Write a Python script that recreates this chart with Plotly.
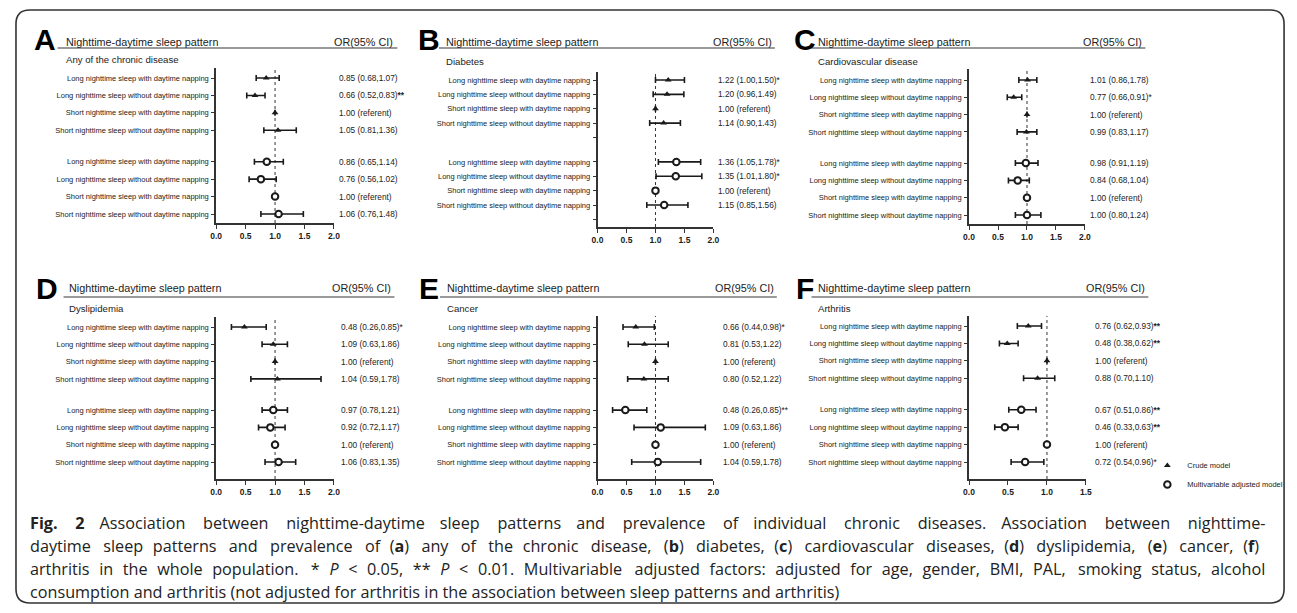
import plotly.graph_objects as go

W, H = 1297, 613
OFF = 8                     # page body margin of the browser
FW, FH = W - OFF, H - OFF   # figure size so the page fits the window

# ---------------- data ----------------
ROW_LABELS = [
    "Long nighttime sleep with daytime napping",
    "Long nighttime sleep without daytime napping",
    "Short nighttime sleep with daytime napping",
    "Short nighttime sleep without daytime napping",
]
PANEL_LETTERS = ["A", "B", "C", "D", "E", "F"]
DISEASES = ["Any of the chronic disease", "Diabetes", "Cardiovascular disease",
            "Dyslipidemia", "Cancer", "Arthritis"]
X_TICKS_2 = [0.0, 0.5, 1.0, 1.5, 2.0]
X_TICKS_15 = [0.0, 0.5, 1.0, 1.5]

# A: any chronic disease
A_crude_or = [0.85, 0.66, 1.00, 1.05]
A_crude_lo = [0.68, 0.52, None, 0.81]
A_crude_hi = [1.07, 0.83, None, 1.36]
A_adj_or = [0.86, 0.76, 1.00, 1.06]
A_adj_lo = [0.65, 0.56, None, 0.76]
A_adj_hi = [1.14, 1.02, None, 1.48]
A_text = ["0.85 (0.68,1.07)", "0.66 (0.52,0.83)<b>**</b>", "1.00 (referent)", "1.05 (0.81,1.36)",
          "0.86 (0.65,1.14)", "0.76 (0.56,1.02)", "1.00 (referent)", "1.06 (0.76,1.48)"]

# B: diabetes
B_crude_or = [1.22, 1.20, 1.00, 1.14]
B_crude_lo = [1.00, 0.96, None, 0.90]
B_crude_hi = [1.50, 1.49, None, 1.43]
B_adj_or = [1.36, 1.35, 1.00, 1.15]
B_adj_lo = [1.05, 1.01, None, 0.85]
B_adj_hi = [1.78, 1.80, None, 1.56]
B_text = ["1.22 (1.00,1.50)*", "1.20 (0.96,1.49)", "1.00 (referent)", "1.14 (0.90,1.43)",
          "1.36 (1.05,1.78)*", "1.35 (1.01,1.80)*", "1.00 (referent)", "1.15 (0.85,1.56)"]

# C: cardiovascular disease
C_crude_or = [1.01, 0.77, 1.00, 0.99]
C_crude_lo = [0.86, 0.66, None, 0.83]
C_crude_hi = [1.17, 0.91, None, 1.17]
C_adj_or = [0.98, 0.84, 1.00, 1.00]
C_adj_lo = [0.80, 0.68, None, 0.80]
C_adj_hi = [1.19, 1.04, None, 1.24]
C_text = ["1.01 (0.86,1.78)", "0.77 (0.66,0.91)*", "1.00 (referent)", "0.99 (0.83,1.17)",
          "0.98 (0.91,1.19)", "0.84 (0.68,1.04)", "1.00 (referent)", "1.00 (0.80,1.24)"]

# D: dyslipidemia
D_crude_or = [0.48, 0.97, 1.00, 1.04]
D_crude_lo = [0.26, 0.78, None, 0.59]
D_crude_hi = [0.85, 1.21, None, 1.78]
D_adj_or = [0.97, 0.92, 1.00, 1.06]
D_adj_lo = [0.78, 0.72, None, 0.83]
D_adj_hi = [1.21, 1.17, None, 1.35]
D_text = ["0.48 (0.26,0.85)*", "1.09 (0.63,1.86)", "1.00 (referent)", "1.04 (0.59,1.78)",
          "0.97 (0.78,1.21)", "0.92 (0.72,1.17)", "1.00 (referent)", "1.06 (0.83,1.35)"]

# E: cancer
E_crude_or = [0.66, 0.81, 1.00, 0.80]
E_crude_lo = [0.44, 0.53, None, 0.52]
E_crude_hi = [0.98, 1.22, None, 1.22]
E_adj_or = [0.48, 1.09, 1.00, 1.04]
E_adj_lo = [0.26, 0.63, None, 0.59]
E_adj_hi = [0.85, 1.86, None, 1.78]
E_text = ["0.66 (0.44,0.98)*", "0.81 (0.53,1.22)", "1.00 (referent)", "0.80 (0.52,1.22)",
          "0.48 (0.26,0.85)**", "1.09 (0.63,1.86)", "1.00 (referent)", "1.04 (0.59,1.78)"]

# F: arthritis
F_crude_or = [0.76, 0.49, 1.00, 0.88]
F_crude_lo = [0.62, 0.39, None, 0.70]
F_crude_hi = [0.93, 0.63, None, 1.10]
F_adj_or = [0.67, 0.46, 1.00, 0.72]
F_adj_lo = [0.51, 0.33, None, 0.54]
F_adj_hi = [0.86, 0.63, None, 0.96]
F_text = ["0.76 (0.62,0.93)<b>**</b>", "0.48 (0.38,0.62)<b>**</b>", "1.00 (referent)", "0.88 (0.70,1.10)",
          "0.67 (0.51,0.86)<b>**</b>", "0.46 (0.33,0.63)<b>**</b>", "1.00 (referent)", "0.72 (0.54,0.96)*"]

LEGEND_NAMES = ["Crude model", "Multivariable adjusted model"]

CAPTION_LINES = [
    "<b>Fig. 2</b> Association between nighttime-daytime sleep patterns and prevalence of individual chronic diseases. Association between nighttime-",
    "daytime sleep patterns and prevalence of (<b>a</b>) any of the chronic disease, (<b>b</b>) diabetes, (<b>c</b>) cardiovascular diseases, (<b>d</b>) dyslipidemia, (<b>e</b>) cancer, (<b>f</b>)",
    "arthritis in the whole population. * <i>P</i> &lt; 0.05, ** <i>P</i> &lt; 0.01. Multivariable adjusted factors: adjusted for age, gender, BMI, PAL, smoking status, alcohol",
    "consumption and arthritis (not adjusted for arthritis in the association between sleep patterns and arthritis)",
]

PANEL_DATA = {
    "A": (A_crude_or, A_crude_lo, A_crude_hi, A_adj_or, A_adj_lo, A_adj_hi, A_text),
    "B": (B_crude_or, B_crude_lo, B_crude_hi, B_adj_or, B_adj_lo, B_adj_hi, B_text),
    "C": (C_crude_or, C_crude_lo, C_crude_hi, C_adj_or, C_adj_lo, C_adj_hi, C_text),
    "D": (D_crude_or, D_crude_lo, D_crude_hi, D_adj_or, D_adj_lo, D_adj_hi, D_text),
    "E": (E_crude_or, E_crude_lo, E_crude_hi, E_adj_or, E_adj_lo, E_adj_hi, E_text),
    "F": (F_crude_or, F_crude_lo, F_crude_hi, F_adj_or, F_adj_lo, F_adj_hi, F_text),
}

# ---------------- layout geometry (window pixels) ----------------
SLOTS_STD = [0, 1, 2, 3, 4.8, 5.8, 6.8, 7.8]
SLOTS_B = [0, 1, 2, 3, 5.7, 6.7, 7.7, 8.7]
GEOM = {
    "A": dict(ax=(212, 331), top=68, bot=223, r0=78, r1=214, slots=SLOTS_STD, blank=[],
              xmax=2.0, letter=(39, 40), hx=58, hy=42, orr=393, ul=(52, 395, 48), sy=60, vx=334),
    "B": dict(ax=(597, 714), top=72, bot=227, r0=80, r1=205, slots=SLOTS_B, blank=[4, 9.7],
              xmax=2.0, letter=(427, 40), hx=442, hy=42, orr=775, ul=(437, 776, 48), sy=62, vx=717),
    "C": dict(ax=(972, 1089), top=69, bot=224, r0=80, r1=215, slots=SLOTS_STD, blank=[],
              xmax=2.0, letter=(806, 40), hx=818, hy=42, orr=1149, ul=(813, 1150, 48), sy=62, vx=1092),
    "D": dict(ax=(212, 331), top=317, bot=479, r0=327, r1=462, slots=SLOTS_STD, blank=[],
              xmax=2.0, letter=(41, 288), hx=62, hy=288, orr=391, ul=(58, 392, 297), sy=308, vx=336),
    "E": dict(ax=(597, 714), top=316, bot=479, r0=327, r1=462, slots=SLOTS_STD, blank=[],
              xmax=2.0, letter=(427, 288), hx=443, hy=288, orr=777, ul=(438, 778, 297), sy=308, vx=722),
    "F": dict(ax=(972, 1090), top=316, bot=479, r0=326, r1=462, slots=SLOTS_STD, blank=[],
              xmax=1.5, letter=(806, 288), hx=818, hy=288, orr=1152, ul=(813, 1153, 297), sy=308, vx=1097),
}
CAP_X = 22
CAP_Y = [523, 546, 569, 592]
CAP_SIZE = 16.2
CAP_EXTRA = [188, 155, 137, 0]   # extra px spread over word gaps (justified lines)

FONT = "Liberation Sans, Arial, sans-serif"
INK = "#1a1a1a"


def px(x):
    return (x - OFF) / FW


def py(y):
    return 1 - (y - OFF) / FH


def justify(line, extra, size):
    if extra <= 0:
        return line
    parts = line.split(" ")
    gaps = len(parts) - 1
    unit = size / 6.0
    out = parts[0]
    used = 0
    for k in range(gaps):
        target = round(extra * (k + 1) / gaps / unit)
        n = target - used
        used = target
        out += " " + "\u2006" * n + parts[k + 1]
    return out


fig = go.Figure()
layout = {}
shapes = []
annotations = []

for i, key in enumerate(PANEL_LETTERS):
    g = GEOM[key]
    c_or, c_lo, c_hi, a_or, a_lo, a_hi, texts = PANEL_DATA[key]
    n = i + 1
    xa = "x" if n == 1 else f"x{n}"
    ya = "y" if n == 1 else f"y{n}"
    slots = g["slots"]
    last = slots[-1]
    step = (g["r1"] - g["r0"]) / last
    ytop = -(g["r0"] - g["top"]) / step
    ybot = last + (g["bot"] - g["r1"]) / step

    def errs(o, lo, hi):
        plus = [(h - v) if h is not None else 0 for v, h in zip(o, hi)]
        minus = [(v - l) if l is not None else 0 for v, l in zip(o, lo)]
        return plus, minus

    cp, cm = errs(c_or, c_lo, c_hi)
    ap, am = errs(a_or, a_lo, a_hi)

    fig.add_trace(go.Scatter(
        x=c_or, y=slots[:4], mode="markers", xaxis=xa, yaxis=ya,
        name=LEGEND_NAMES[0], showlegend=(key == "F"), legendrank=1,
        marker=dict(symbol="triangle-up", size=6, color=INK),
        error_x=dict(type="data", symmetric=False, array=cp, arrayminus=cm,
                     thickness=1.6, width=3, color=INK),
        cliponaxis=False))
    fig.add_trace(go.Scatter(
        x=a_or, y=slots[4:], mode="markers", xaxis=xa, yaxis=ya,
        name=LEGEND_NAMES[1], showlegend=(key == "F"), legendrank=2,
        marker=dict(symbol="circle", size=6.5, color="white", line=dict(color=INK, width=2)),
        error_x=dict(type="data", symmetric=False, array=ap, arrayminus=am,
                     thickness=1.6, width=3, color=INK),
        cliponaxis=False))

    ticks = X_TICKS_2 if g["xmax"] == 2.0 else X_TICKS_15
    layout["xaxis" if n == 1 else f"xaxis{n}"] = dict(
        domain=[px(g["ax"][0]), px(g["ax"][1])], anchor=ya, range=[0, g["xmax"]],
        showgrid=False, zeroline=False, showline=True, linecolor="#333", linewidth=1.6,
        ticks="outside", ticklen=4, tickwidth=1.2, tickcolor="#333",
        tickvals=ticks, ticktext=[f"<b>{t:.1f}</b>" for t in ticks],
        tickfont=dict(family=FONT, size=8.5, color=INK), fixedrange=True)
    tv = list(slots) + list(g["blank"])
    tt = ROW_LABELS * 2 + [""] * len(g["blank"])
    layout["yaxis" if n == 1 else f"yaxis{n}"] = dict(
        domain=[py(g["bot"]), py(g["top"])], anchor=xa, range=[ybot, ytop],
        showgrid=False, zeroline=False, showline=True, linecolor="#333", linewidth=1.6,
        ticks="outside", ticklen=3, tickwidth=1.2, tickcolor="#333",
        tickvals=tv, ticktext=tt, ticklabelstandoff=1,
        tickfont=dict(family=FONT, size=7.5, color="#222"), fixedrange=True)

    # reference line at OR = 1
    shapes.append(dict(type="line", xref=xa, yref=f"{ya} domain", x0=1, x1=1, y0=0, y1=1,
                       line=dict(color="#333", width=1, dash="dot"), layer="below"))

    # OR text column
    for s, t in zip(slots, texts):
        annotations.append(dict(text=t, xref="paper", yref=ya, x=px(g["vx"]), y=s,
                                xanchor="left", yanchor="middle", showarrow=False,
                                font=dict(family=FONT, size=8.3, color="#222")))

    # panel header
    annotations.append(dict(text=f"<b>{key}</b>", xref="paper", yref="paper",
                            x=px(g["letter"][0]), y=py(g["letter"][1]), xanchor="center",
                            yanchor="middle", showarrow=False,
                            font=dict(family=FONT, size=30, color="#000")))
    annotations.append(dict(text="Nighttime-daytime sleep pattern", xref="paper", yref="paper",
                            x=px(g["hx"]), y=py(g["hy"]), xanchor="left", yanchor="middle",
                            showarrow=False, font=dict(family=FONT, size=10.8, color="#222")))
    annotations.append(dict(text="OR(95% CI)", xref="paper", yref="paper",
                            x=px(g["orr"]), y=py(g["hy"]), xanchor="right", yanchor="middle",
                            showarrow=False, font=dict(family=FONT, size=10.8, color="#222")))
    annotations.append(dict(text=DISEASES[i], xref="paper", yref="paper",
                            x=px(g["hx"]), y=py(g["sy"]), xanchor="left", yanchor="middle",
                            showarrow=False, font=dict(family=FONT, size=9.6, color="#222")))
    shapes.append(dict(type="line", xref="paper", yref="paper",
                       x0=px(g["ul"][0]), x1=px(g["ul"][1]), y0=py(g["ul"][2]), y1=py(g["ul"][2]),
                       line=dict(color="#9a9a9a", width=2)))

# caption
for line, yy, ex in zip(CAPTION_LINES, CAP_Y, CAP_EXTRA):
    annotations.append(dict(text=justify(line, ex, CAP_SIZE), xref="paper", yref="paper",
                            x=px(CAP_X), y=py(yy), xanchor="left", yanchor="middle",
                            showarrow=False,
                            font=dict(family="Open Sans, sans-serif", size=CAP_SIZE, color="#222")))

# rounded outer frame
x0, y0, x1, y1, r = px(10), py(10), px(1290), py(603), 14
rx, ry = r / FW, r / FH
path = (f"M {x0+rx},{y0} L {x1-rx},{y0} Q {x1},{y0} {x1},{y0-ry} "
        f"L {x1},{y1+ry} Q {x1},{y1} {x1-rx},{y1} L {x0+rx},{y1} Q {x0},{y1} {x0},{y1+ry} "
        f"L {x0},{y0-ry} Q {x0},{y0} {x0+rx},{y0} Z")
shapes.append(dict(type="path", xref="paper", yref="paper", path=path,
                   line=dict(color="#333", width=1.6)))

fig.update_layout(
    width=FW, height=FH, margin=dict(l=0, r=0, t=0, b=0),
    paper_bgcolor="white", plot_bgcolor="white",
    shapes=shapes, annotations=annotations,
    legend=dict(x=px(1152), y=py(451), xanchor="left", yanchor="top",
                font=dict(family=FONT, size=7.5, color="#222"), itemwidth=30,
                tracegroupgap=0, bgcolor="rgba(0,0,0,0)"),
    **layout,
)

fig.write_html("out.html")
